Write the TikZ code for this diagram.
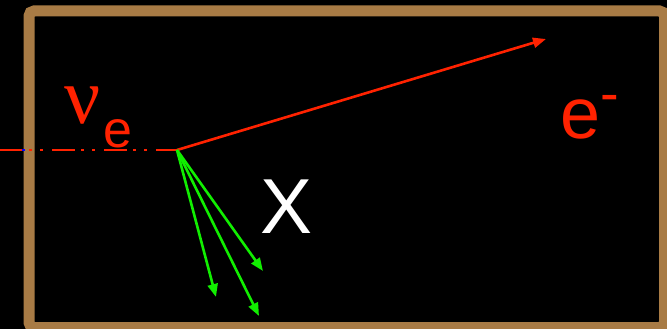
\documentclass[tikz,border=0pt]{standalone}
\usepackage{fontspec}
\setmainfont{Liberation Sans}
\newfontfamily\serifgr{Liberation Serif}
\usetikzlibrary{arrows.meta}
\definecolor{frame}{HTML}{A87B45}
\definecolor{pred}{HTML}{FF2200}
\definecolor{pgreen}{HTML}{11EE00}
\tikzset{
  trk/.style={line width=2.6pt, -{Triangle[length=13pt,width=10pt]}},
  redtrk/.style={trk, draw=pred, fill=pred},
  greentrk/.style={trk, draw=pgreen},
  lbl/.style={inner sep=0pt, anchor=base}
}
\begin{document}
\begin{tikzpicture}[x=1pt,y=-1pt]
\useasboundingbox (0,0) rectangle (667,329);
\fill[black] (0,0) rectangle (667,329);
\begin{scope}
\clip (0,0) rectangle (667,329);
\draw[frame, line width=11pt, rounded corners=5pt] (29,11) rectangle (664.5,327.5);
\end{scope}
\coordinate (start) at (0,150);
\coordinate (blue) at (22,150);
\coordinate (v) at (177,150);
\coordinate (eend) at (546,39);
\coordinate (g1) at (263,271);
\coordinate (g2) at (216,297);
\coordinate (g3) at (259,316);
\draw[pred, line width=2.6pt, dash pattern=on 23pt off 6pt on 3pt off 8pt on 3pt off 9pt] (start) -- (v);
\draw[blue, line width=2.6pt] (blue) -- ++(3,0);
\draw[redtrk] (v) -- (eend);
\draw[greentrk] (v) -- (g1);
\draw[greentrk] (v) -- (g2);
\draw[greentrk] (v) -- (g3);
\node[lbl, text=pred, font=\serifgr\fontsize{80}{80}\selectfont] (nu) at (83,123) {ν};
\node[lbl, text=pred, font=\fontsize{52}{52}\selectfont] (esub) at (118,147) {e};
\node[lbl, text=pred, font=\fontsize{72}{72}\selectfont] (eminus) at (590,139) {e\raisebox{26pt}{\fontsize{56}{56}\selectfont -}};
\node[lbl, text=white, font=\fontsize{78}{78}\selectfont] (X) at (287,233) {X};
\end{tikzpicture}
\end{document}
